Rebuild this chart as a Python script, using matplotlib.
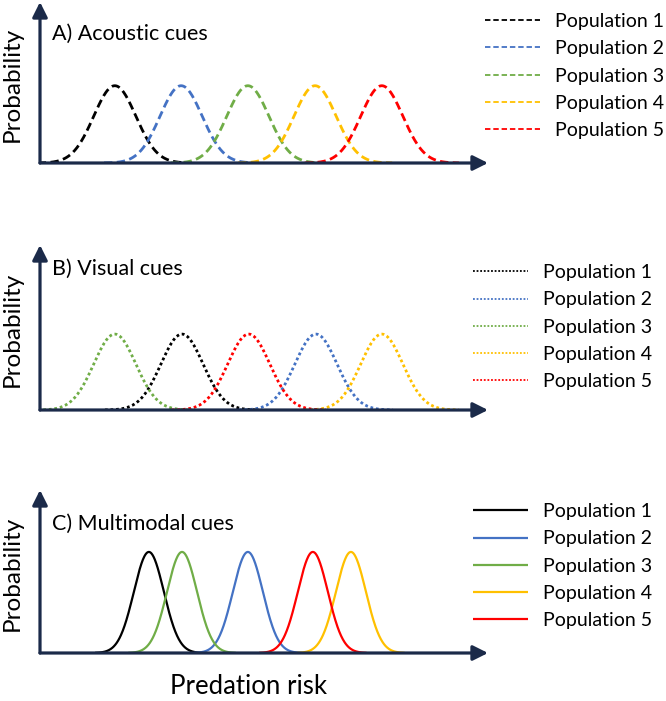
import numpy as np
from matplotlib import pyplot as plt

plt.rcParams['font.family'] = ['Lato', 'DejaVu Sans']

W, H = 666, 701

labels = ["Population 1", "Population 2", "Population 3", "Population 4", "Population 5"]
colors = ["#000000", "#4472C4", "#70AD47", "#FFC000", "#FF0000"]
axis_color = "#1B2A49"

# means of each population on the predation-risk axis (0..10)
acoustic_mu = [1.67, 3.15, 4.64, 6.14, 7.63]
visual_mu = [3.17, 6.16, 1.67, 7.63, 4.66]
multimodal_mu = [2.43, 4.64, 3.17, 6.94, 6.09]

# spread, drawn half-range and peak height of each panel's curves
acoustic_sd, acoustic_span, acoustic_peak = 0.47, 1.72, 0.48
visual_sd, visual_span, visual_peak = 0.47, 1.72, 0.46
multimodal_sd, multimodal_span, multimodal_peak = 0.335, 1.2, 0.62

titles = ["A) Acoustic cues", "B) Visual cues", "C) Multimodal cues"]


def fx(px):
    return px / W


def fy(py):
    return 1 - py / H


fig = plt.figure(figsize=(W / 100, H / 100), dpi=100)

panels = [
    # (axis bottom px, axis top px, title baseline px, legend left/top px, means, sd, span, peak, style)
    (163, 2, 40, (485, 13), acoustic_mu, acoustic_sd, acoustic_span, acoustic_peak, (0, (3, 1.6))),
    (410, 245, 275, (473, 264), visual_mu, visual_sd, visual_span, visual_peak, (0, (1, 1))),
    (653, 490, 530, (473, 503), multimodal_mu, multimodal_sd, multimodal_span, multimodal_peak, "-"),
]

for i, (bot, top, tb, (ll, lt), mus, sd, span, peak, ls) in enumerate(panels):
    ax = fig.add_axes([fx(40), fy(bot), (488 - 40) / W, (bot - top) / H])
    ax.set_xlim(0, 10)
    ax.set_ylim(0, 1)
    ax.axis("off")
    lw = 1.6 if ls == "-" else 2.0
    for mu, c, lab in zip(mus, colors, labels):
        x = np.linspace(mu - span, mu + span, 300)
        y = peak * np.exp(-0.5 * ((x - mu) / sd) ** 2)
        ax.plot(x, y, color=c, lw=lw, linestyle=ls, label=lab,
                solid_capstyle="butt", dash_capstyle="butt")
    # axis arrows
    arrow = dict(arrowstyle="-|>,head_length=0.6,head_width=0.3", color=axis_color,
                 lw=2.3, shrinkA=0, shrinkB=0, mutation_scale=15)
    ax.annotate("", xy=(1, 0), xytext=(0, 0), xycoords="axes fraction", arrowprops=arrow)
    ax.annotate("", xy=(0, 1), xytext=(0, 0), xycoords="axes fraction", arrowprops=arrow)

    fig.text(fx(52), fy(tb), titles[i], fontsize=15.5, va="baseline", ha="left")
    fig.text(fx(12), fy((bot + top) / 2 + 2), "Probability", fontsize=17.5,
             rotation=90, va="center", ha="center")

    leg = ax.legend(loc="upper left", bbox_to_anchor=(fx(ll), fy(lt)),
                    bbox_transform=fig.transFigure, frameon=False, fontsize=14,
                    handlelength=2.85, handletextpad=0.77, labelspacing=0.53,
                    borderpad=0, borderaxespad=0)
    for hl in leg.get_lines():
        hl.set_linewidth(1.3 if ls != "-" else 1.6)

fig.text(fx(249), fy(694), "Predation risk", fontsize=18.5, ha="center", va="baseline")

plt.savefig("out.png", dpi=100)
